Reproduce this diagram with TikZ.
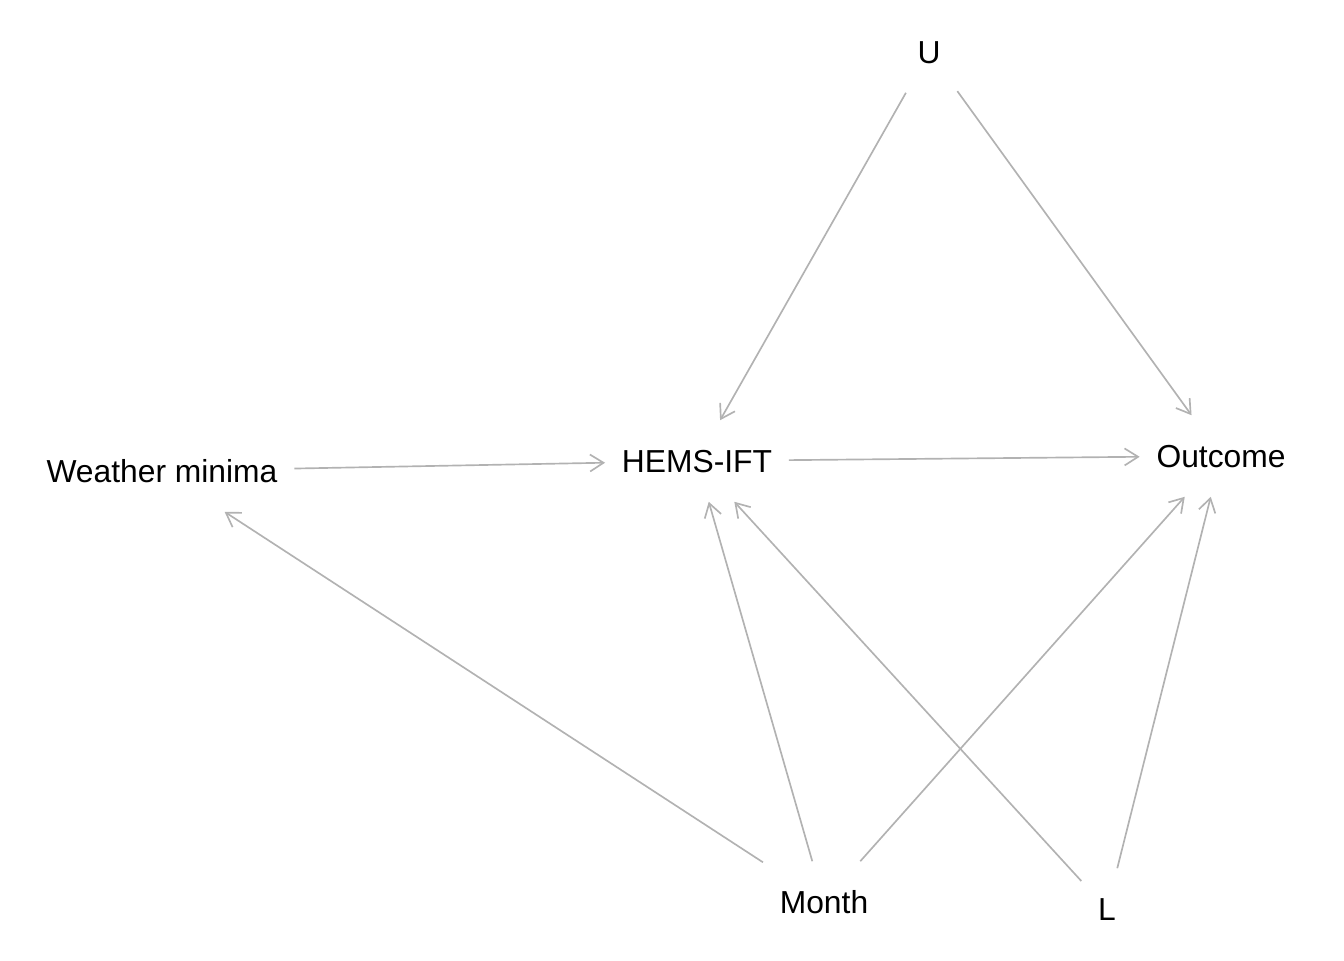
\documentclass[tikz,border=0pt]{standalone}
\usepackage{fontspec}
\setmainfont{Liberation Sans}
\usepackage{xcolor}
\definecolor{edgegray}{RGB}{178,178,178}
\usetikzlibrary{arrows.meta}

\tikzset{
  var/.style={rectangle,inner xsep=0.33cm,inner ysep=0.58cm,text height=13pt,text depth=0pt,font=\fontsize{18.1}{21}\selectfont},
  edge/.style={draw=edgegray,line width=0.95pt,-{Straight Barb[length=0.27cm,width=0.34cm]}}
}

\begin{document}
\begin{tikzpicture}[x=0.02cm,y=-0.02cm]
  \useasboundingbox (0,0) rectangle (1344,960);
  % variables
  \node[var] (u) at (929,52) {U};
  \node[var] (hems) at (697,461) {HEMS-IFT};
  \node[var] (out) at (1221,456) {Outcome};
  \node[var] (wm) at (162,471) {Weather minima};
  \node[var] (month) at (824,902) {Month};
  \node[var] (l) at (1107,909) {L};
  % edges
  \draw[edge] (u) -- (hems);
  \draw[edge] (u) -- (out);
  \draw[edge] (wm) -- (hems);
  \draw[edge] (hems) -- (out);
  \draw[edge] (month) -- (wm);
  \draw[edge] (month) -- (hems);
  \draw[edge] (month) -- (out);
  \draw[edge] (l) -- (hems);
  \draw[edge] (l) -- (out);
\end{tikzpicture}
\end{document}
